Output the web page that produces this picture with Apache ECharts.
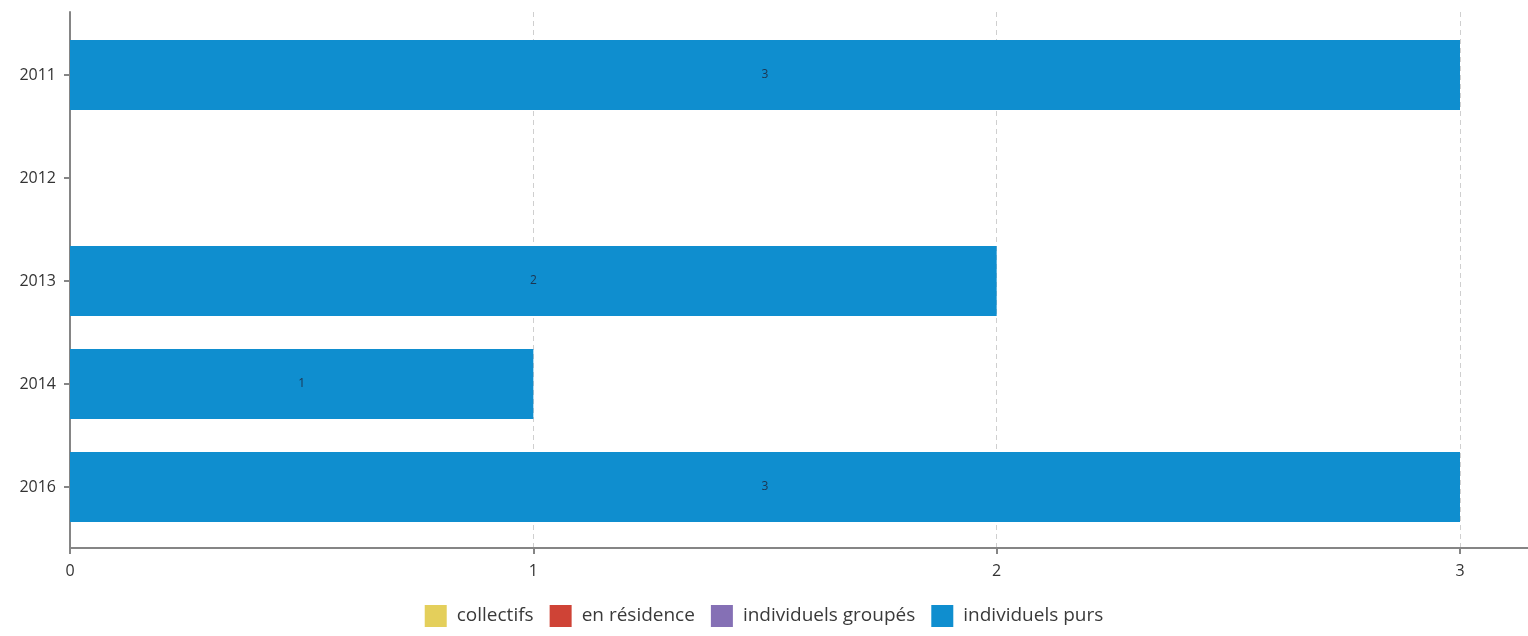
<!DOCTYPE html>
<html><head><meta charset="utf-8">
<script src="https://cdn.jsdelivr.net/npm/echarts@6/dist/echarts.min.js"></script>
<style>html,body{margin:0;padding:0;background:#fff}#c{width:1528px;height:636px}</style>
</head><body><div id="c"></div>
<script>
const categories = ['2011', '2012', '2013', '2014', '2016'];
const seriesNames = ['collectifs', 'en résidence', 'individuels groupés', 'individuels purs'];
const collectifs = [0, 0, 0, 0, 0];
const enResidence = [0, 0, 0, 0, 0];
const individuelsGroupes = [0, 0, 0, 0, 0];
const individuelsPurs = [3, 0, 2, 1, 3];
const xTicks = [0, 1, 2, 3];
const colors = ['#e4cf5b', '#cf4336', '#8570b5', '#0f8ecf'];

const FONT = 'Open Sans';
const chart = echarts.init(document.getElementById('c'));
const valuesList = [collectifs, enResidence, individuelsGroupes, individuelsPurs];
const xMax = xTicks[xTicks.length - 1];
const outerMax = xMax * 1458 / 1390;

chart.setOption({
  animation: false,
  color: colors,
  textStyle: { fontFamily: FONT },
  legend: {
    bottom: 4, left: 'center', itemWidth: 22, itemHeight: 22, itemGap: 16,
    icon: 'rect',
    textStyle: { fontSize: 19, color: '#3a3a3a', fontFamily: FONT, padding: [0, 0, 0, 5] },
    data: seriesNames
  },
  grid: [
    { left: 70, right: 0, top: 12, height: 536, containLabel: false },
    { left: 70, width: 1390, top: 23.5, height: 515, containLabel: false }
  ],
  xAxis: [
    {
      gridIndex: 0, type: 'value', min: 0, max: outerMax, interval: 1,
      axisLine: { show: true, lineStyle: { color: '#858585', width: 2 } },
      axisTick: { show: true, length: 6, lineStyle: { color: '#858585', width: 2 } },
      axisLabel: { showMaxLabel: false, color: '#333', fontSize: 16, margin: 15, fontFamily: FONT },
      splitLine: { show: true, showMaxLine: false, lineStyle: { type: [5, 4], color: '#cfcfcf', width: 1 } }
    },
    {
      gridIndex: 1, type: 'value', min: 0, max: xMax, show: false
    }
  ],
  yAxis: [
    {
      gridIndex: 0, type: 'value', min: 0, max: 1,
      axisLine: { show: true, lineStyle: { color: '#858585', width: 2 } },
      axisTick: { show: false }, axisLabel: { show: false }, splitLine: { show: false }
    },
    {
      gridIndex: 1, type: 'category', data: categories, inverse: true,
      axisLine: { show: false },
      axisTick: { show: true, alignWithLabel: true, length: 6, lineStyle: { color: '#858585', width: 2 } },
      axisLabel: { color: '#333', fontSize: 16, margin: 14, fontFamily: FONT },
      splitLine: { show: false }
    }
  ],
  series: seriesNames.map((name, i) => ({
    name, type: 'bar', stack: 'total', xAxisIndex: 1, yAxisIndex: 1,
    barWidth: 70,
    data: valuesList[i],
    itemStyle: { color: colors[i] },
    label: {
      show: true, position: 'inside', color: '#1d3550', fontSize: 12, fontFamily: FONT,
      formatter: p => (p.value ? String(p.value) : '')
    }
  }))
});
</script></body></html>
